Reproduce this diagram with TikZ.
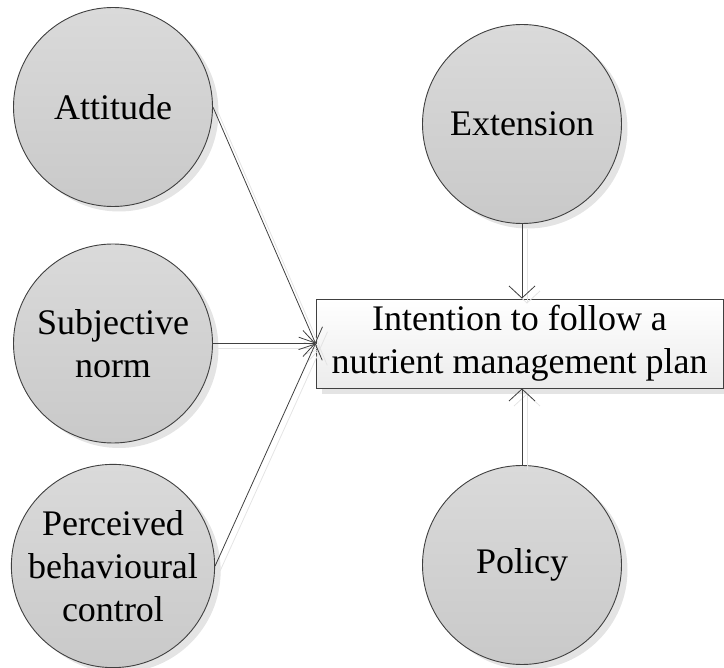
\documentclass[tikz,border=0pt]{standalone}
\usepackage{fontspec}
\setmainfont{Liberation Serif}
\usetikzlibrary{arrows.meta,shadows}
\definecolor{circtop}{RGB}{218,218,218}
\definecolor{circbot}{RGB}{201,201,201}
\definecolor{boxbot}{RGB}{236,236,236}
\definecolor{edgegray}{RGB}{64,64,64}
\definecolor{shadowgray}{RGB}{228,228,228}
\tikzset{
  labeltext/.style = {align=center, text=black, font=\fontsize{36}{43}\selectfont},
  cnode/.style = {labeltext, circle, draw=edgegray, line width=0.9pt, minimum size=199pt, inner sep=0pt,
    top color=circtop, bottom color=circbot,
    drop shadow={shadow xshift=6pt, shadow yshift=-5pt, fill=shadowgray, opacity=1}},
  tbox/.style = {labeltext, rectangle, draw=edgegray, line width=0.9pt, minimum width=407pt, minimum height=89pt, inner sep=0pt,
    top color=white, bottom color=boxbot,
    drop shadow={shadow xshift=6pt, shadow yshift=-6pt, fill=shadowgray, opacity=1}},
  link/.style = {draw=edgegray, line width=0.8pt, -{Straight Barb[length=12pt,width=26pt]}},
  linkshadow/.style = {link, draw=shadowgray, transform canvas={shift={(5pt,-5pt)}}}
}
\begin{document}
\begin{tikzpicture}[x=1pt, y=-1pt]
\useasboundingbox (0,0) rectangle (724,668);

% Draw the factors
\node [cnode] (att) at (113,107) {Attitude};
\node [cnode] (subj) at (113,343.5) {Subjective\\norm};
\node [cnode] (pbc) at (113,566) {Perceived\\behavioural\\control};
\node [cnode] (ext) at (522,124) {Extension};
\node [cnode] (pol) at (522,565) {Policy};

% Draw the intention
\node [tbox] (intent) at (519.5,343.5) {Intention to follow a\\nutrient management plan};

% Draw the links
\draw [linkshadow] (att.east) -- (intent.west);
\draw [linkshadow] (subj.east) -- (intent.west);
\draw [linkshadow] (pbc.east) -- (intent.west);
\draw [linkshadow] (ext.south) -- (ext.south |- intent.north);
\draw [linkshadow] (pol.north) -- (pol.north |- intent.south);

\draw [link] (att.east) -- (intent.west);
\draw [link] (subj.east) -- (intent.west);
\draw [link] (pbc.east) -- (intent.west);
\draw [link] (ext.south) -- (ext.south |- intent.north);
\draw [link] (pol.north) -- (pol.north |- intent.south);

\end{tikzpicture}
\end{document}
